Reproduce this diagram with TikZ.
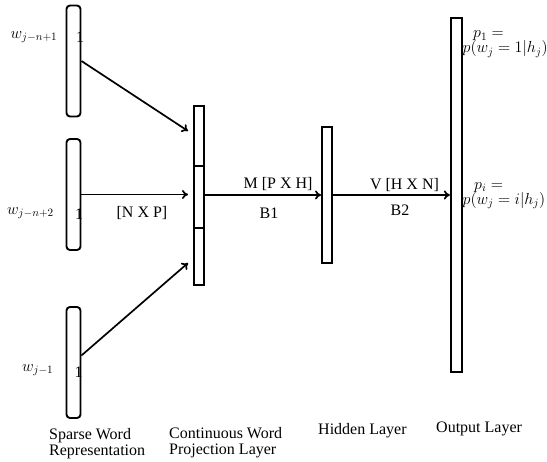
\RequirePackage{fix-cm}
\documentclass[tikz,border=0pt]{standalone}
\usepackage{fontspec}
\setmainfont{Liberation Serif}
\usetikzlibrary{arrows.meta,calc}
\begin{document}
\begin{tikzpicture}[x=1pt,y=-1pt,
 every node/.style={font=\fontsize{16}{16}\selectfont, inner sep=0pt},
 sparse/.style={draw, line width=1.9pt, rounded corners=3.5pt, minimum width=14pt, minimum height=111pt},
 layer/.style={draw, line width=1.9pt, minimum width=10pt},
 conn/.style={line width=1.7pt, -{To[length=6pt,width=9pt]}}]
\useasboundingbox (0,0) rectangle (547,462);
% sparse word representation
\node[sparse] (s1) at (73.5,61) {};
\node[sparse] (s2) at (73.5,194.5) {};
\node[sparse] (s3) at (73.5,362.5) {};
\node (o1) at (80,37.5) {1};
\node (o2) at (79,214) {1};
\node (o3) at (78.5,372) {1};
\node (w1) at (34,37) {$w_{j-n+1}$};
\node (w2) at (30.5,213) {$w_{j-n+2}$};
\node (w3) at (37.7,370) {$w_{j-1}$};
% projection layer
\node[layer, minimum height=60pt] (pa) at (199,136) {};
\node[layer, minimum height=62pt] (pb) at (199,197) {};
\node[layer, minimum height=57pt] (pc) at (199,256.5) {};
% hidden and output
\node[layer, minimum height=136pt] (hid) at (327,195) {};
\node[layer, minimum width=11pt, minimum height=354pt, line width=2.2pt] (out) at (456.5,195) {};
% arrows
\coordinate (e1) at (188,131);
\coordinate (e2) at (188,194.5);
\coordinate (e3) at (188,263);
\draw[conn] (s1.east) -- (e1);
\draw[conn] (s2.east) -- (e2);
\draw[conn] ($(s3.east)+(0,-7)$) -- (e3);
\draw[conn] (hid.west -| pb.east) -- (hid.west);
\draw[conn] (hid.east) -- (out.west);
% labels
\node (nxp) at (142,213) {[N X P]};
\node (mpxh) at (278,184) {M [P X H]};
\node (b1) at (269,213) {B1};
\node (vhxn) at (404.5,185) {V [H X N]};
\node (b2) at (400,210) {B2};
\node[anchor=base west] (p1a) at (473,38) {$p_1 =$};
\node[anchor=base west] (p1b) at (462.5,53) {$p(w_j = 1|h_j)$};
\node[anchor=base west] (pia) at (474,189.5) {$p_i =$};
\node[anchor=base west] (pib) at (462.5,204.5) {$p(w_j = i|h_j)$};
\node[anchor=west, align=left] (l1) at (49,444) {Sparse Word\\Representation};
\node[anchor=west, align=left] (l2) at (169,442.5) {Continuous Word\\Projection Layer};
\node[anchor=west] (l3) at (318,431) {Hidden Layer};
\node[anchor=west] (l4) at (436,429) {Output Layer};
\end{tikzpicture}
\end{document}
